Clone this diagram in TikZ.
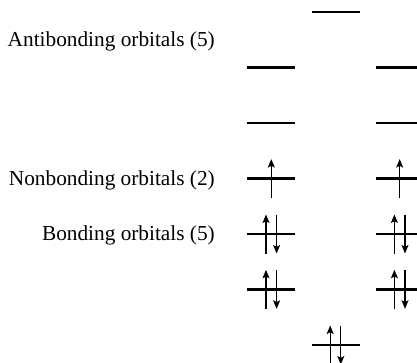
\documentclass[tikz,border=0pt]{standalone}
\usepackage{fontspec}
\setmainfont{Liberation Serif}
\usetikzlibrary{arrows.meta}
\begin{document}
\begin{tikzpicture}[x=1pt,y=-1pt,
  level/.style={line width=2.4pt},
  spin/.style={line width=1.2pt,-{Stealth[length=8.5pt,width=7pt,inset=1.8pt]}},
  lbl/.style={anchor=base east,inner sep=0pt,font=\fontsize{21.3}{25}\selectfont}]
\clip (0,0) rectangle (417,362);
\useasboundingbox (0,0) rectangle (417,362);
% level centres
\coordinate (T)  at (335.5,12);
\coordinate (A1) at (271.3,67.3);
\coordinate (A2) at (399.7,67.3);
\coordinate (B1) at (271.3,122.7);
\coordinate (B2) at (399.7,122.7);
\coordinate (N1) at (271.3,178.6);
\coordinate (N2) at (399.7,178.6);
\coordinate (C1) at (271.3,234);
\coordinate (C2) at (399.7,234);
\coordinate (D1) at (271.3,289.3);
\coordinate (D2) at (399.7,289.3);
\coordinate (E)  at (335.5,345);
\foreach \p in {T,A1,A2,B1,B2,N1,N2,C1,C2,D1,D2,E}
  \draw[level] ([xshift=-24pt]\p) -- ([xshift=24pt]\p);
% single electrons
\foreach \p in {N1,N2}
  \draw[spin] ([yshift=-19.5pt]\p) -- ([yshift=19.5pt]\p);
% electron pairs
\foreach \p in {C1,C2,D1,D2,E}{
  \draw[spin] ([xshift=-5.3pt,yshift=-19.5pt]\p) -- ([xshift=-5.3pt,yshift=19.5pt]\p);
  \draw[spin] ([xshift=5.3pt,yshift=19.5pt]\p) -- ([xshift=5.3pt,yshift=-19.5pt]\p);
}
% labels
\node[lbl] (la) at (215,46.5) {Antibonding orbitals (5)};
\node[lbl] (ln) at (215,185.5) {Nonbonding orbitals (2)};
\node[lbl] (lb) at (215,240.5) {Bonding orbitals (5)};
\end{tikzpicture}
\end{document}
